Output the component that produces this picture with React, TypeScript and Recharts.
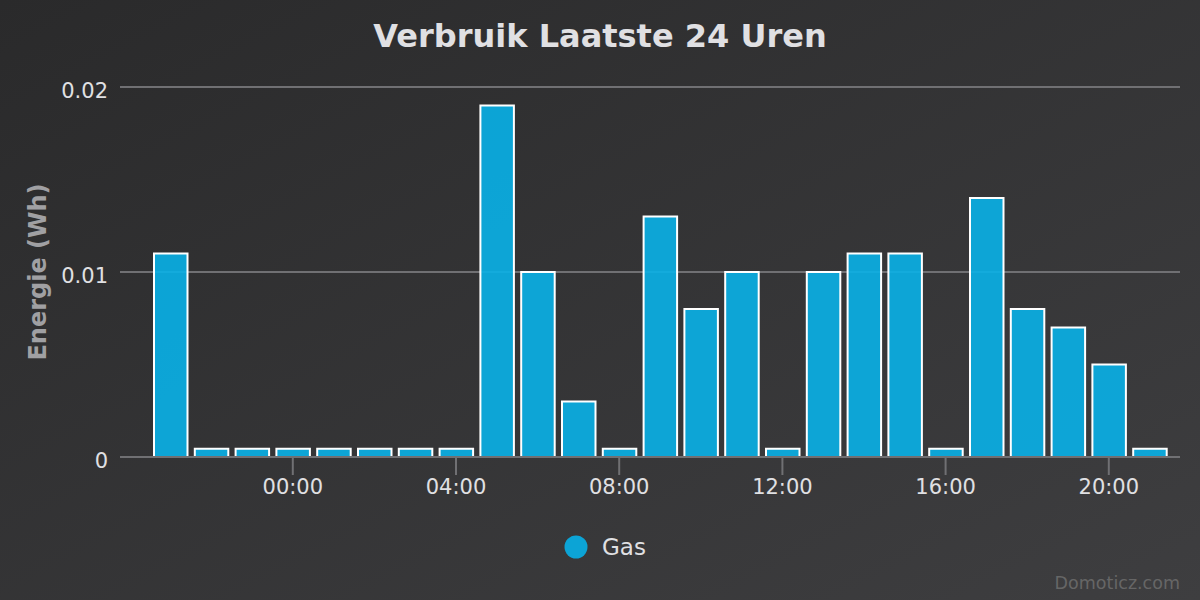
import React from "react"
import { Bar, BarChart, CartesianGrid, Legend, XAxis, YAxis } from "recharts"

const hours = [
  "21:00", "22:00", "23:00", "00:00", "01:00", "02:00", "03:00", "04:00", "05:00",
  "06:00", "07:00", "08:00", "09:00", "10:00", "11:00", "12:00", "13:00", "14:00",
  "15:00", "16:00", "17:00", "18:00", "19:00", "20:00", "21:00",
]
const gas = [
  0.011, 0.00045, 0.00045, 0.00045, 0.00045, 0.00045, 0.00045, 0.00045, 0.019,
  0.01, 0.003, 0.00045, 0.013, 0.008, 0.01, 0.00045, 0.01, 0.011,
  0.011, 0.00045, 0.014, 0.008, 0.007, 0.005, 0.00045,
]
const xTickLabels = ["00:00", "04:00", "08:00", "12:00", "16:00", "20:00"]
const yTicks = [0, 0.01, 0.02]

const data = hours.map((h, i) => ({ hour: h, gas: gas[i] }))

const FONT = "'DejaVu Sans', sans-serif"
const TEXT = "#e0e0e3"
const LINE = "#707073"

function XTick({ x, y, payload }: any) {
  if (!xTickLabels.includes(payload.value)) return null
  return (
    <g>
      <line x1={x} x2={x} y1={y} y2={y + 18} stroke={LINE} strokeWidth={2} />
      <text x={x} y={y + 37} textAnchor="middle" fill={TEXT} fontSize={21} fontFamily={FONT}>
        {payload.value}
      </text>
    </g>
  )
}

function YTick({ x, y, payload }: any) {
  return (
    <text x={x - 12} y={y + 10.5} textAnchor="end" fill={TEXT} fontSize={21} fontFamily={FONT}>
      {String(payload.value)}
    </text>
  )
}

function YTitle(props: any) {
  const vb = props.viewBox || { x: 0, y: 87, width: 120, height: 370 }
  const cx = vb.x + 38
  const cy = vb.y + vb.height / 2
  return (
    <text
      x={cx}
      y={cy}
      transform={`rotate(-90 ${cx} ${cy})`}
      textAnchor="middle"
      dominantBaseline="central"
      fill="#a0a0a3"
      fontSize={24}
      fontWeight="bold"
      fontFamily={FONT}
    >
      Energie (Wh)
    </text>
  )
}

function GasLegend() {
  return (
    <div style={{ position: "relative", width: 1200, height: 40 }}>
      <svg width={24} height={24} style={{ position: "absolute", left: 564, top: 8 }}>
        <circle cx={12} cy={12} r={11.5} fill="#0ca4d6" />
      </svg>
      <span
        style={{
          position: "absolute",
          left: 602,
          top: 5,
          fontSize: 23,
          lineHeight: "30px",
          color: TEXT,
          fontFamily: FONT,
        }}
      >
        Gas
      </span>
    </div>
  )
}

export default function App() {
  return (
    <div
      style={{
        position: "absolute",
        left: 0,
        top: 0,
        width: 1200,
        height: 600,
        background: "linear-gradient(to bottom right, #2a2a2b, #3e3e40)",
        fontFamily: FONT,
      }}
    >
      <div
        style={{
          position: "absolute",
          left: 0,
          top: 16,
          width: 1200,
          textAlign: "center",
          fontSize: 32,
          fontWeight: "bold",
          color: TEXT,
          lineHeight: "40px",
        }}
      >
        Verbruik Laatste 24 Uren
      </div>
      <BarChart
        width={1200}
        height={600}
        data={data}
        margin={{ top: 87, right: 20, left: 0, bottom: 33 }}
      >
        <CartesianGrid vertical={false} stroke={LINE} strokeWidth={2} />
        <XAxis
          dataKey="hour"
          interval={0}
          height={70}
          padding={{ left: 30, right: 10 }}
          tickSize={0}
          tickMargin={0}
          tickLine={false}
          axisLine={{ stroke: LINE, strokeWidth: 2 }}
          tick={<XTick />}
        />
        <YAxis
          width={120}
          domain={[0, 0.02]}
          ticks={yTicks}
          tickSize={0}
          tickMargin={0}
          tickLine={false}
          axisLine={false}
          tick={<YTick />}
          label={(p: any) => <YTitle {...p} />}
        />
        <Legend
          verticalAlign="bottom"
          height={40}
          wrapperStyle={{ left: 0, width: 1200, height: 40 }}
          content={() => <GasLegend />}
        />
        <Bar
          dataKey="gas"
          name="Gas"
          fill="#09b1e8"
          fillOpacity={0.9}
          stroke="#ffffff"
          strokeWidth={2}
          barSize={33.5}
          isAnimationActive={false}
        />
      </BarChart>
      <div
        style={{
          position: "absolute",
          right: 20,
          top: 572,
          fontSize: 17.5,
          color: "#666666",
          lineHeight: "22px",
        }}
      >
        Domoticz.com
      </div>
    </div>
  )
}
